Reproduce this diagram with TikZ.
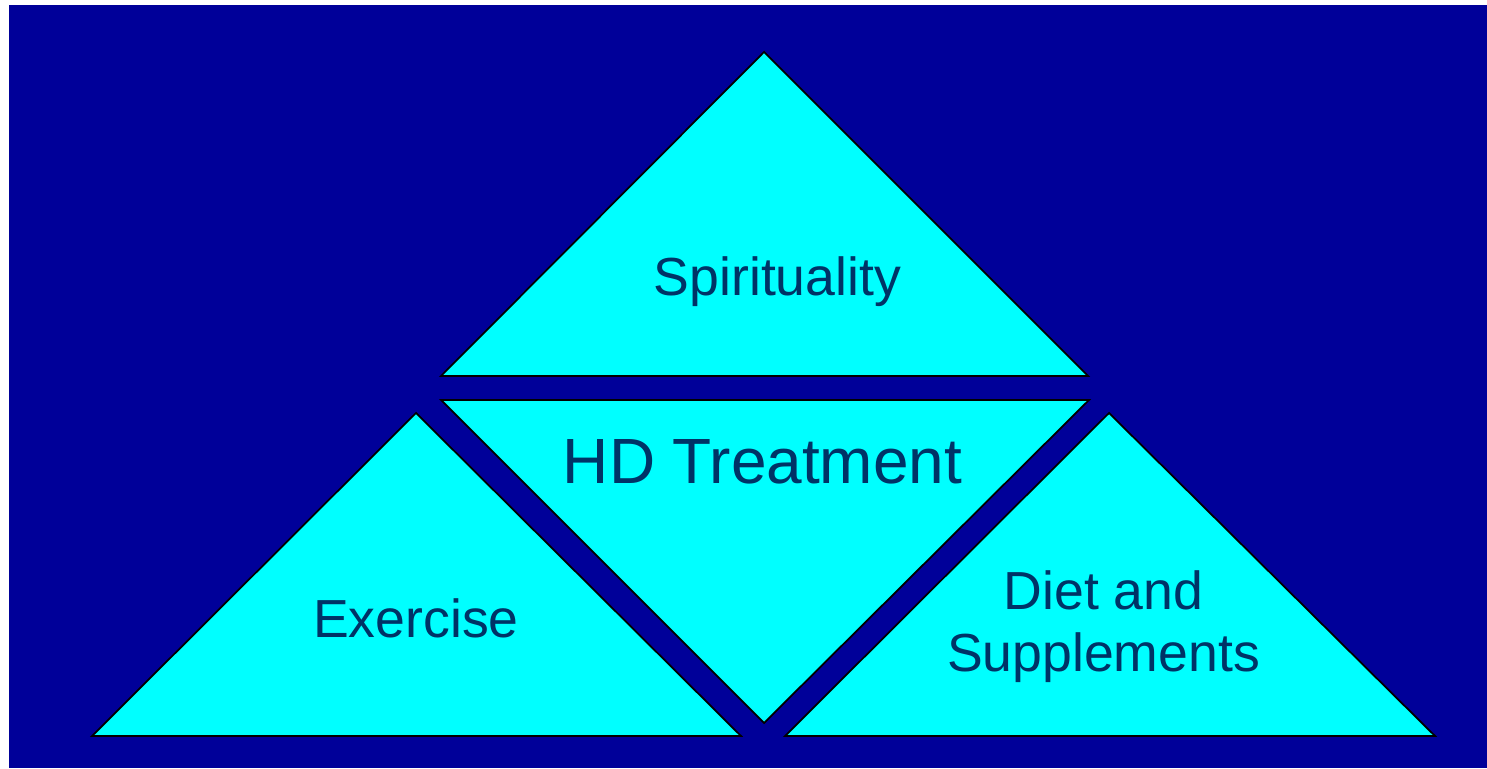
\documentclass[tikz,border=0pt]{standalone}
\usepackage{fontspec}
\setmainfont{Liberation Sans}
\definecolor{fond}{RGB}{0,0,153}
\definecolor{cyanvif}{RGB}{0,255,255}
\definecolor{marine}{RGB}{0,51,102}
\usetikzlibrary{positioning}

\begin{document}
\begin{tikzpicture}[
				tri/.style={fill=cyanvif,draw=black,line width=1pt,line join=miter},
				lbl/.style={text=marine,anchor=base,inner sep=0pt,font=\fontsize{30.5}{37}\selectfont}]
				\useasboundingbox (0,0) rectangle (29.74,15.36);
				\fill[fond] (0.18,0) rectangle (29.74,15.26);
				
				% pyramide : trois triangles debout, un renverse au centre
				\draw[tri] (8.82,7.84) -- (15.28,14.32) -- (21.76,7.84) -- cycle;
				\draw[tri] (8.82,7.36) -- (21.78,7.36) -- (15.28,0.90) -- cycle;
				\draw[tri] (1.84,0.64) -- (8.32,7.10) -- (14.82,0.64) -- cycle;
				\draw[tri] (15.70,0.64) -- (22.18,7.10) -- (28.70,0.64) -- cycle;
				
				\node[lbl] (spir) at (15.55,9.44){Spirituality};
				\node[lbl,font=\fontsize{36.4}{44}\selectfont] (hd) at (15.25,5.68){HD Treatment};
				\node[lbl] (exer) at (8.32,2.60){Exercise};
				\node[lbl] (diet) at (22.07,3.16){Diet and};
				\node[lbl] (supp) at (22.07,1.92){Supplements};
			\end{tikzpicture}
\end{document}
